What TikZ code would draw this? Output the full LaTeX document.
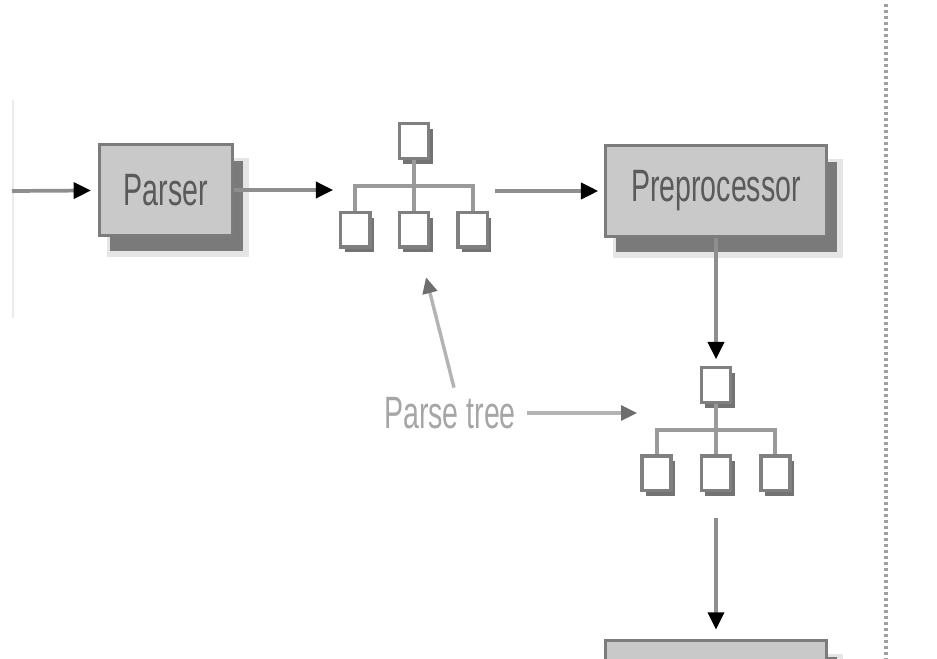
\documentclass[tikz,border=0pt]{standalone}
\usepackage{fontspec}
\newfontfamily\condfont[FakeStretch=0.63]{Liberation Sans}
\usepackage{xcolor}
\usepackage{tikz}
\usetikzlibrary{arrows.meta}
\usetikzlibrary{positioning}
\usetikzlibrary{shadows}
\usetikzlibrary{fit}

\definecolor{boxline}{HTML}{7C7C7C}
\definecolor{boxfill}{HTML}{C9C9C9}
\definecolor{boxtext}{HTML}{5A5A5A}
\definecolor{treeline}{HTML}{808080}
\definecolor{barline}{HTML}{9A9A9A}
\definecolor{flowline}{HTML}{8E8E8E}
\definecolor{noteline}{HTML}{B4B4B4}
\definecolor{notetip}{HTML}{6E6E6E}
\definecolor{labeltext}{HTML}{A6A6A6}
\definecolor{dotline}{HTML}{A0A0A0}

\begin{document}
\begin{tikzpicture}[x=0.75pt, y=-0.75pt,
  stage/.style={draw=boxline, line width=2.6pt, fill=boxfill, text=boxtext, minimum height=68pt, inner sep=0pt,
    font=\condfont\fontsize{34}{40}\selectfont,
    general shadow={shadow xshift=9pt, shadow yshift=-13pt, fill=black!22, draw=black!10, line width=6pt},
    general shadow={shadow xshift=8pt, shadow yshift=-12pt, fill=black!52}},
  leaf/.style={draw=treeline, line width=2.6pt, fill=white, minimum width=22pt, minimum height=26pt, inner sep=0pt,
    general shadow={shadow xshift=3pt, shadow yshift=-4pt, fill=black!55}},
  branch/.style={draw=barline, line width=3pt},
  flow/.style={draw=flowline, line width=2.8pt, -{Triangle[length=13pt, width=12pt, color=black]}},
  note/.style={draw=noteline, line width=2.6pt, -{Triangle[length=12pt, width=11pt, color=notetip]}}]
\path[use as bounding box] (0,0) rectangle (937,659);
\clip (0,0) rectangle (937,659);
% left border and page divider
\draw[black!8, line width=2pt] (13,100) -- (13,318);
\draw[dotline, line width=3pt, dash pattern=on 2.5pt off 2pt] (886,4) -- (886,659);
% stages
\node (parser) [stage, minimum width=100pt] at (166,190) {Parser};
\node (pre) [stage, minimum width=166pt] at (716,191) {Preprocessor};
\node (next) [stage, minimum width=166pt] at (716,686) {};
% first parse tree
\node (t1r) [leaf] at (414,141) {};
\node (t1b) [leaf, below=38pt of t1r] {};
\node (t1a) [leaf, left=19.5pt of t1b] {};
\node (t1c) [leaf, right=19.5pt of t1b] {};
\node (tree1) [fit=(t1r)(t1a)(t1c), inner sep=0pt] {};
\draw[branch] (t1r) -- (t1b);
\draw[branch] (t1a.north) -- ++(0,-25) -| (t1c.north);
% second parse tree
\node (t2r) [leaf] at (716,385) {};
\node (t2b) [leaf, below=37.5pt of t2r] {};
\node (t2a) [leaf, left=20pt of t2b] {};
\node (t2c) [leaf, right=20pt of t2b] {};
\node (tree2) [fit=(t2r)(t2a)(t2c), inner sep=0pt] {};
\draw[branch] (t2r) -- (t2b);
\draw[branch] (t2a.north) -- ++(0,-24) -| (t2c.north);
% label
\node (lbl) [text=labeltext, font=\condfont\fontsize{34}{40}\selectfont, inner sep=2pt] at (450,413) {Parse tree};
\coordinate (lbltop) at ([xshift=3pt, yshift=5pt]lbl.north);
% arrows
\coordinate (src) at (12,191);
\draw[flow, shorten >=5pt] (src) -- (parser);
\draw[flow, shorten >=4pt] (parser) -- (parser.east -| tree1.west);
\draw[flow, shorten <=4pt, shorten >=4pt] (pre.west -| tree1.east) -- (pre);
\draw[flow, shorten >=5pt] (pre) -- (t2r);
\draw[flow, shorten <=19pt, shorten >=7pt] (tree2.south) -- (next);
\draw[note, shorten <=6pt, shorten >=2pt] (lbl) -- (lbl -| tree2.west);
\draw[note, shorten >=22pt] (lbltop) -- (t1b);
\end{tikzpicture}
\end{document}
